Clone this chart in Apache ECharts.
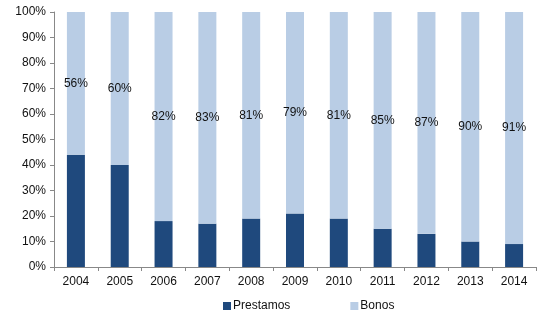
<!DOCTYPE html>
<html>
<head>
<meta charset="utf-8">
<script src="https://cdn.jsdelivr.net/npm/echarts@6/dist/echarts.min.js"></script>
<style>
  html, body { margin: 0; padding: 0; background: #fff; }
  #chart { width: 541px; height: 320px; }
</style>
</head>
<body>
<div id="chart"></div>
<script>
// Share of financing by year (percent)
var years = ['2004', '2005', '2006', '2007', '2008', '2009', '2010', '2011', '2012', '2013', '2014'];
var prestamos = [44, 40, 18, 17, 19, 21, 19, 15, 13, 10, 9];
var bonos = [56, 60, 82, 83, 81, 79, 81, 85, 87, 90, 91];
var yTicks = [0, 10, 20, 30, 40, 50, 60, 70, 80, 90, 100];

var font = 'Liberation Sans, Arial, sans-serif';
var chart = echarts.init(document.getElementById('chart'), null, { renderer: 'canvas' });

chart.setOption({
  animation: false,
  grid: { left: 54, right: 5, top: 12, bottom: 53, containLabel: false },
  legend: {
    bottom: 3,
    left: 218,
    itemGap: 60,
    itemWidth: 8,
    itemHeight: 8,
    icon: 'rect',
    textStyle: { fontFamily: font, fontSize: 12, color: '#111', padding: [0, 0, 0, -3] },
    data: ['Prestamos', 'Bonos']
  },
  xAxis: {
    type: 'category',
    data: years,
    axisLine: { lineStyle: { color: '#888', width: 1 } },
    axisTick: { show: true, inside: false, length: 4, alignWithLabel: false, lineStyle: { color: '#888' } },
    axisLabel: { fontFamily: font, fontSize: 12, color: '#111', margin: 9 }
  },
  yAxis: {
    type: 'value',
    min: yTicks[0],
    max: yTicks[yTicks.length - 1],
    interval: yTicks[1] - yTicks[0],
    splitLine: { show: false },
    axisLine: { show: true, lineStyle: { color: '#888', width: 1 } },
    axisTick: { show: true, inside: false, length: 4, lineStyle: { color: '#888' } },
    axisLabel: { fontFamily: font, fontSize: 12, color: '#111', margin: 8, formatter: '{value}%' }
  },
  series: [
    {
      name: 'Prestamos',
      type: 'bar',
      stack: 'total',
      data: prestamos,
      barWidth: 18,
      itemStyle: { color: '#1F497D' }
    },
    {
      name: 'Bonos',
      type: 'bar',
      stack: 'total',
      data: bonos,
      barWidth: 18,
      itemStyle: { color: '#B9CDE5' },
      label: {
        show: true,
        position: 'inside',
        formatter: '{c}%',
        fontFamily: font,
        fontSize: 12,
        color: '#111'
      }
    }
  ]
});
</script>
</body>
</html>
